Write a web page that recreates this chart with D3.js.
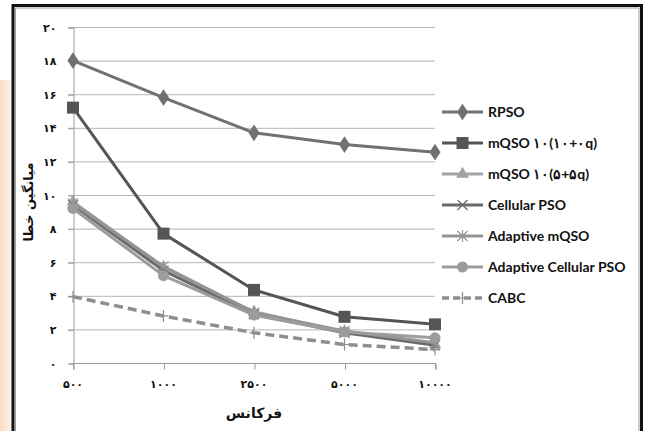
<!DOCTYPE html>
<html>
<head>
<meta charset="utf-8">
<script src="https://cdn.jsdelivr.net/npm/d3@7.9.0/dist/d3.min.js"></script>
<style>
  body { margin: 0; background: #fff; }
  svg { display: block; }
</style>
</head>
<body>
<svg id="chart" width="645" height="431"></svg>
<script>
// categories (frequency) and tick labels
const categories = ['500', '1000', '2500', '5000', '10000'];
const xLabels = ['۵۰۰', '۱۰۰۰', '۲۵۰۰', '۵۰۰۰', '۱۰۰۰۰'];
const yTicks = [0, 2, 4, 6, 8, 10, 12, 14, 16, 18, 20];
const toFa = n => String(n).replace(/\d/g, d => '۰۱۲۳۴۵۶۷۸۹'[d]);

// series names and values
const seriesNames = ['RPSO', 'mQSO ۱۰(۱۰+۰q)', 'mQSO ۱۰(۵+۵q)', 'Cellular PSO', 'Adaptive mQSO', 'Adaptive Cellular PSO', 'CABC'];
const rpso = [18.0, 15.8, 13.7, 13.0, 12.55];
const mqso10 = [15.2, 7.7, 4.35, 2.75, 2.3];
const mqso55 = [9.6, 5.7, 3.05, 1.85, 1.1];
const cellular = [9.4, 5.5, 2.9, 1.8, 1.05];
const adaptiveMqso = [9.5, 5.75, 3.0, 1.9, 1.2];
const adaptiveCellular = [9.2, 5.2, 2.85, 1.85, 1.5];
const cabc = [3.95, 2.8, 1.8, 1.1, 0.8];
const seriesValues = [rpso, mqso10, mqso55, cellular, adaptiveMqso, adaptiveCellular, cabc];

const colors = ['#717171', '#555555', '#a3a3a3', '#6a6a6a', '#949494', '#9c9c9c', '#8e8e8e'];
const markers = ['diamond', 'square', 'triangle', 'cross', 'star', 'circle', 'plus'];

const svg = d3.select('#chart');

// faint watermark on the left edge
const grad = svg.append('defs').append('linearGradient')
  .attr('id', 'wm').attr('x1', 0).attr('x2', 1);
grad.append('stop').attr('offset', '0%').attr('stop-color', '#fbdcc4');
grad.append('stop').attr('offset', '100%').attr('stop-color', '#fff3ea');
svg.append('rect').attr('x', 0).attr('y', 80).attr('width', 12).attr('height', 351).attr('fill', 'url(#wm)');

// outer frame
svg.append('path')
  .attr('d', 'M13,431 V5.5 H641.5 V431')
  .attr('fill', 'none').attr('stroke', '#111').attr('stroke-width', 3);
svg.append('path')
  .attr('d', 'M15.5,431 V8 H639 V431')
  .attr('fill', 'none').attr('stroke', '#9a9a9a').attr('stroke-width', 1);

const x = d3.scalePoint().domain(categories).range([73, 435]);
const y = d3.scaleLinear().domain([0, 20]).range([363, 27]);

// gridlines
svg.append('g').selectAll('line').data(yTicks.filter(d => d > 0)).join('line')
  .attr('x1', 68).attr('x2', 435)
  .attr('y1', d => y(d) + 0.5).attr('y2', d => y(d) + 0.5)
  .attr('stroke', '#b4b4b4').attr('stroke-width', 1);

// y axis
const yAxis = svg.append('g').attr('transform', 'translate(73.5,0.5)')
  .call(d3.axisLeft(y).tickValues(yTicks).tickSize(5).tickFormat(toFa));
yAxis.select('.domain').attr('stroke', '#9a9a9a');
yAxis.selectAll('.tick line').attr('stroke', '#9a9a9a');
yAxis.selectAll('.tick text')
  .attr('x', -17)
  .attr('font-family', 'DejaVu Sans').attr('font-size', 11).attr('font-weight', 'bold')
  .attr('letter-spacing', 2).attr('fill', '#111');

// x axis
const xAxis = svg.append('g').attr('transform', 'translate(0.5,363.5)')
  .call(d3.axisBottom(x).tickSize(6).tickFormat((d, i) => xLabels[i]));
xAxis.select('.domain').attr('stroke', '#9a9a9a').attr('d', 'M73,6V0H435V6');
xAxis.selectAll('.tick line').attr('stroke', '#9a9a9a');
xAxis.selectAll('.tick text')
  .attr('y', 17).attr('dx', -1)
  .attr('font-family', 'DejaVu Sans').attr('font-size', 11).attr('font-weight', 'bold')
  .attr('letter-spacing', 3).attr('fill', '#111');

// axis titles
svg.append('text')
  .attr('transform', 'translate(33,202) rotate(-90)')
  .attr('text-anchor', 'middle')
  .attr('font-family', 'DejaVu Sans').attr('font-size', 13).attr('font-weight', 'bold')
  .attr('fill', '#111')
  .text('میانگین خطا');
svg.append('text')
  .attr('x', 254).attr('y', 418)
  .attr('text-anchor', 'middle')
  .attr('font-family', 'DejaVu Sans').attr('font-size', 14).attr('font-weight', 'bold')
  .attr('fill', '#111')
  .text('فرکانس');

function drawMarker(g, type, cx, cy, color) {
  if (type === 'diamond') {
    g.append('path').attr('d', d3.symbol(d3.symbolDiamond, 80)()).attr('transform', `translate(${cx},${cy}) scale(1.15,1)`).attr('fill', color);
  } else if (type === 'square') {
    g.append('rect').attr('x', cx - 6).attr('y', cy - 6).attr('width', 12).attr('height', 12).attr('fill', color);
  } else if (type === 'triangle') {
    g.append('path').attr('d', d3.symbol(d3.symbolTriangle, 70)()).attr('transform', `translate(${cx},${cy})`).attr('fill', color);
  } else if (type === 'cross') {
    g.append('path').attr('d', `M${cx - 5},${cy - 5}L${cx + 5},${cy + 5}M${cx - 5},${cy + 5}L${cx + 5},${cy - 5}`)
      .attr('stroke', color).attr('stroke-width', 1.2);
  } else if (type === 'star') {
    g.append('path').attr('d', `M${cx - 5},${cy - 5}L${cx + 5},${cy + 5}M${cx - 5},${cy + 5}L${cx + 5},${cy - 5}M${cx},${cy - 6}V${cy + 6}`)
      .attr('stroke', color).attr('stroke-width', 1.2);
  } else if (type === 'circle') {
    g.append('circle').attr('cx', cx).attr('cy', cy).attr('r', 5.5).attr('fill', color);
  } else if (type === 'plus') {
    g.append('path').attr('d', `M${cx - 5},${cy}H${cx + 5}M${cx},${cy - 6}V${cy + 6}`)
      .attr('stroke', color).attr('stroke-width', 1.2);
  }
}

const line = d3.line().x((d, i) => x(categories[i])).y(d => y(d));

// series lines + markers
seriesValues.forEach((vals, s) => {
  const g = svg.append('g');
  g.append('path')
    .attr('d', line(vals))
    .attr('fill', 'none')
    .attr('stroke', colors[s])
    .attr('stroke-width', s === 6 ? 3.5 : 3)
    .attr('stroke-dasharray', s === 6 ? '9,5' : null)
    .attr('stroke-linejoin', 'round');
  vals.forEach((v, i) => drawMarker(g, markers[s], x(categories[i]), y(v), colors[s]));
});

// legend
const legend = svg.append('g');
seriesNames.forEach((name, s) => {
  const ly = 112 + s * 31;
  const g = legend.append('g');
  g.append('line')
    .attr('x1', 442).attr('x2', 483).attr('y1', ly).attr('y2', ly)
    .attr('stroke', colors[s]).attr('stroke-width', s === 6 ? 3.5 : 3)
    .attr('stroke-dasharray', s === 6 ? '7,4' : null);
  drawMarker(g, markers[s], 462.5, ly, colors[s]);
  g.append('text')
    .attr('x', 488).attr('y', ly + 5)
    .attr('font-family', 'Lato').attr('font-size', 14).attr('font-weight', 'bold')
    .attr('fill', '#111')
    .text(name);
});
</script>
</body>
</html>
